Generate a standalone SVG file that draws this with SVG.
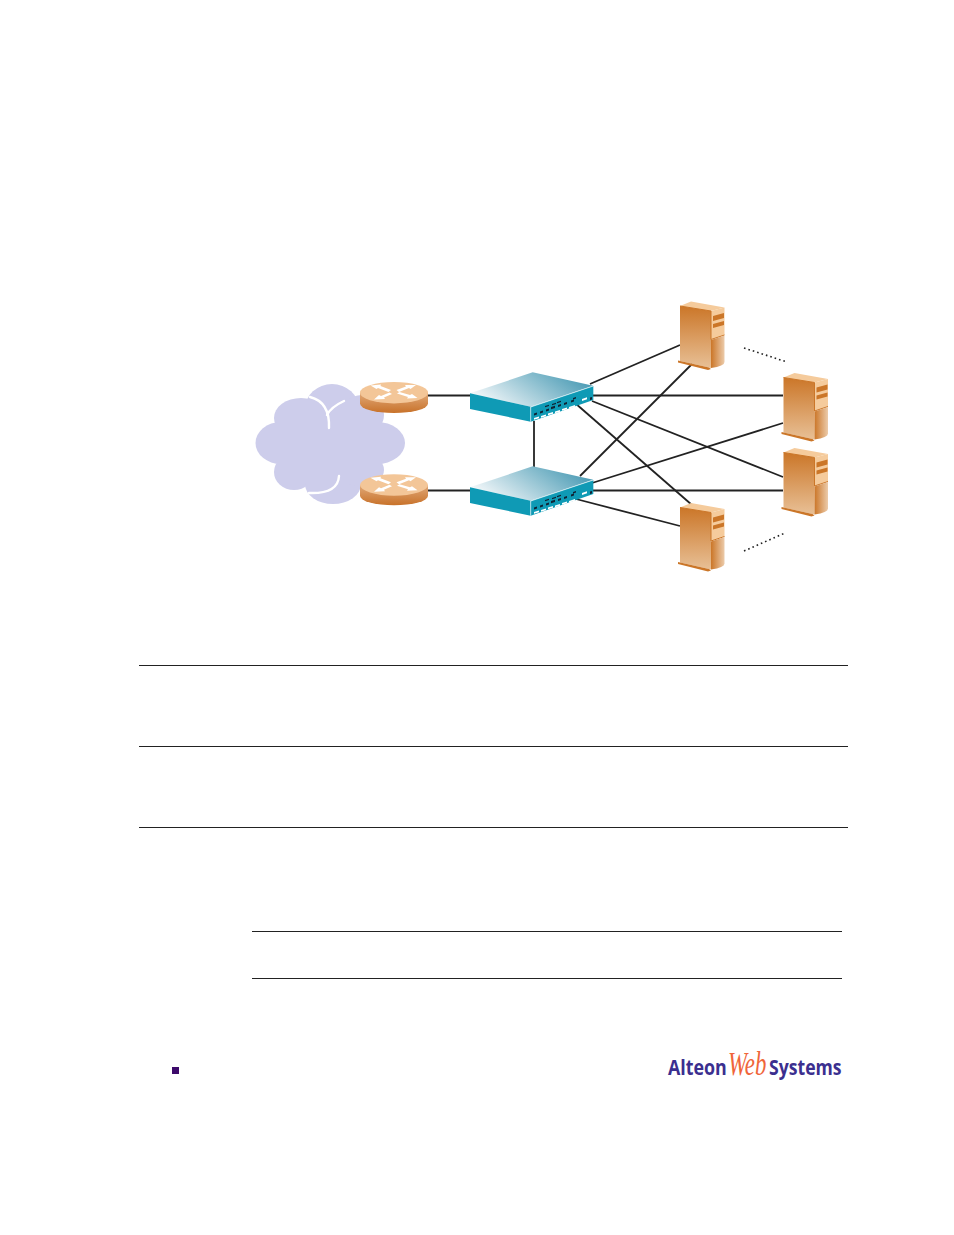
<svg xmlns="http://www.w3.org/2000/svg" xmlns:xlink="http://www.w3.org/1999/xlink" width="954" height="1235" viewBox="0 0 954 1235">
<style>
.c{stroke:#222;stroke-width:1.8;fill:none}
.d{stroke:#222;stroke-width:1.6;fill:none;stroke-dasharray:1.6 3}
.r{stroke:#222;stroke-width:1;fill:none}
.w{stroke:#fff;stroke-width:2.4;fill:none;stroke-linecap:round}
.cl{fill:#cdcdeb}
.lg{font-family:"Open Sans","Liberation Sans",sans-serif;font-weight:700;font-size:20.5px;fill:#3b2f8f}
.lw{font-family:"Liberation Serif",serif;font-style:italic;font-size:33px;fill:#f0653a}
</style>
<defs>
<linearGradient id="sf" x1="0" y1="0" x2="0" y2="1"><stop offset="0" stop-color="#cb7628"/><stop offset="1" stop-color="#e8c096"/></linearGradient>
<linearGradient id="ss" x1="0" y1="0" x2="1" y2="0"><stop offset="0" stop-color="#cb7628"/><stop offset="1" stop-color="#eccbaa"/></linearGradient>
<linearGradient id="rs" x1="0" y1="0" x2="0" y2="1"><stop offset="0" stop-color="#e0a878"/><stop offset="1" stop-color="#c8722a"/></linearGradient>
<linearGradient id="st" x1="0" y1="0.6" x2="1" y2="0.2"><stop offset="0" stop-color="#f4f8fa"/><stop offset="1" stop-color="#3f95b0"/></linearGradient>
<g id="server">
<path d="M0 0L11 -4.500L44.500 1.500L31 5Z" fill="#f5cb9c"/>
<path d="M0 0L31 5V62L0 55Z" fill="url(#sf)"/>
<path d="M31 5L44.500 1.500V29L31 33.500Z" fill="#f5cb9c"/>
<path d="M0 0L31 5V33.500L44.500 29" fill="none" stroke="#cb7628" stroke-width="1"/>
<path d="M31 34L44.500 29.500V56Q44.500 60 31 62Z" fill="url(#ss)"/>
<path d="M-2 54.500L29 61.500L31 63L28 64L-2 56.500Z" fill="#cb7628"/>
<path d="M33 10L44 7V12L33 15Z M33 18L44 15V19L33 22Z" fill="#cb7628"/>
</g>
<g id="router">
<path d="M360 392.700V403.500A34 9.500 0 0 0 428 403.500V392.700Z" fill="url(#rs)"/>
<ellipse cx="394" cy="392.700" rx="34" ry="10.700" fill="#f3c698"/>
<path d="M370.500 385.500L381 384.500L380.500 386L391 390L388.500 392L378 388L376.500 389Z M416 385L405 385L406 386.500L396.500 390L399 392L409 388L410.500 389Z M374 399.500L385 399L384 397.500L392 394L389.500 392.500L381 396L379 395Z M417.500 398L407 398.500L408 397L397 393.500L399.500 392L410 395L412 394Z" fill="#fff"/>
</g>
<g id="switch">
<path d="M470 393.300L532.700 372.300L593.300 385.700L530.700 406.700Z" fill="url(#st)"/>
<path d="M470 393.300L530.700 406.700V421.700L470 409Z" fill="#0f9ab5"/>
<path d="M530.700 407L593.300 386V400L530.700 421.700Z" fill="#0f9ab5"/>
<path d="M530.700 421.700V407L593.300 386" fill="none" stroke="#e8f6f9" stroke-width="0.7"/>
<path d="M534 413.500L537 412.500V414.500L534 415.500Z M540 411.500L543 410.500V412.500L540 413.500Z M546 409.500L549 408.500V410.500L546 411.500Z M545 406L549 404.800V406L545 407.200Z M551 407L555 405.800V408L551 409.200Z M552 404L556 402.800V404L552 405.200Z M557 402L561 400.800V402L557 403.200Z M558 405L561 404V406L558 407Z M564 403L567 402V404L564 405Z M571 400.500L574 399.500V401.500L571 402.500Z M573 398L576 397V398.500L573 399.500Z M590 397.500L592 397V399.500L590 400Z" fill="#112233"/>
<path d="M534 418L539 416.500V418.300L534 419.800Z M541 416L546 414.500V416.300L541 417.800Z M548 413.500L553 412V413.800L548 415.300Z M555 411.500L560 410V411.800L555 413.300Z M562 409L567 407.500V409.300L562 410.800Z M569 407L575 405V406.800L569 408.800Z M582 399L587 397.300V399.300L582 401Z" fill="#fff"/>
</g>
</defs>

<g id="connectors">
<path class="c" d="M428 395.500H470"/>
<path class="c" d="M428 490.500H470"/>
<path class="c" d="M534 421V467"/>
<path class="c" d="M590 384L680 345"/>
<path class="c" d="M592 395.500H783"/>
<path class="c" d="M592 401L783 477"/>
<path class="c" d="M575 403L692 505"/>
<path class="c" d="M580 476L692 364"/>
<path class="c" d="M592 483L783 423"/>
<path class="c" d="M592 490.500H783"/>
<path class="c" d="M576 499L680 526"/>
<path class="d" d="M744 348L787 362"/>
<path class="d" d="M744 551L785 533"/>
</g>

<g id="cloud">
<ellipse class="cl" cx="332" cy="409" rx="27" ry="25"/>
<ellipse class="cl" cx="301" cy="418" rx="27" ry="20"/>
<ellipse class="cl" cx="281" cy="443" rx="25.500" ry="21"/>
<ellipse class="cl" cx="294" cy="472" rx="20" ry="18"/>
<ellipse class="cl" cx="333" cy="484" rx="28" ry="20"/>
<ellipse class="cl" cx="377" cy="443" rx="28" ry="21"/>
<ellipse class="cl" cx="362" cy="470" rx="22" ry="17"/>
<ellipse class="cl" cx="362" cy="415" rx="22" ry="20"/>
<rect class="cl" x="285" y="410" width="90" height="70"/>
<path class="w" d="M310 397Q330 402 329 428"/>
<path class="w" d="M344 401Q331 407 327 415"/>
<path class="w" d="M339 476Q338 494 309 493"/>
</g>

<use id="router1" href="#router" xlink:href="#router"/>
<use id="router2" href="#router" xlink:href="#router" y="92.300"/>
<use id="switch1" href="#switch" xlink:href="#switch"/>
<use id="switch2" href="#switch" xlink:href="#switch" y="94"/>
<use id="server1" href="#server" xlink:href="#server" x="680" y="306"/>
<use id="server2" href="#server" xlink:href="#server" x="783.500" y="377.500"/>
<use id="server3" href="#server" xlink:href="#server" x="783.500" y="452.500"/>
<use id="server4" href="#server" xlink:href="#server" x="680" y="507.500"/>

<g id="rules">
<path class="r" d="M139 665.500H848M139 746.500H848M139 827.500H848M252 931.500H842M252 978.500H842"/>
</g>
<rect id="bullet" x="172" y="1067" width="7" height="7" fill="#3d0a6b"/>
<g id="logo">
<text class="lg" transform="translate(668 1074.500) scale(0.87 1)">Alteon</text>
<text class="lw" transform="translate(728 1075) scale(0.69 1)">Web</text>
<text class="lg" transform="translate(769 1074.500) scale(0.86 1)">Systems</text>
</g>
</svg>
